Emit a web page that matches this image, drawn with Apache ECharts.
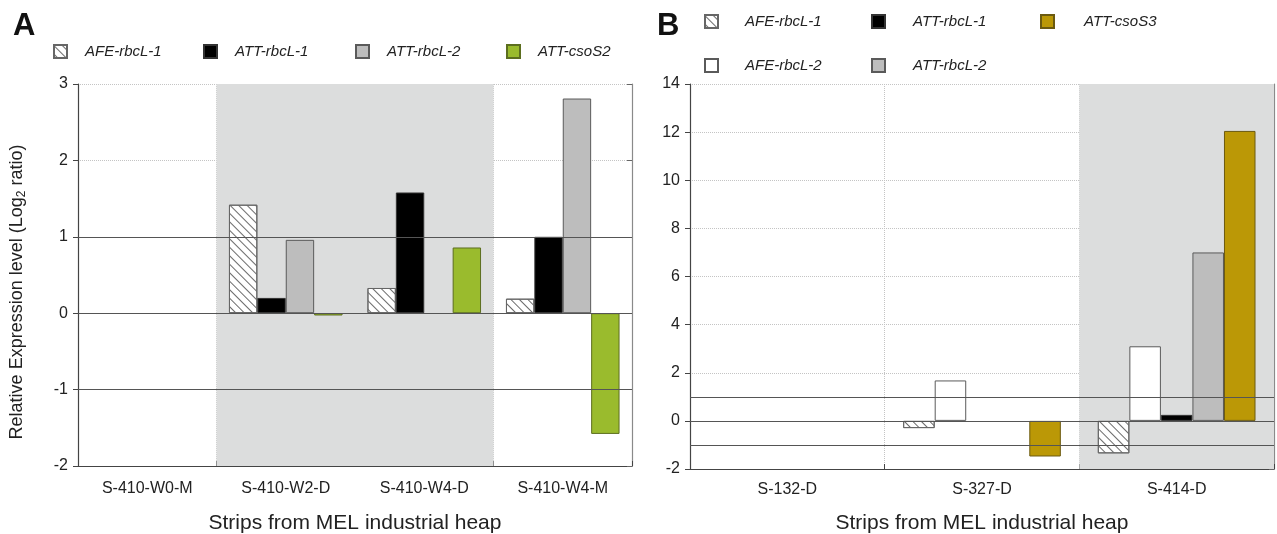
<!DOCTYPE html>
<html>
<head>
<meta charset="utf-8">
<script src="https://cdn.jsdelivr.net/npm/echarts@6/dist/echarts.min.js"></script>
<style>
  html, body { margin: 0; padding: 0; background: #fff; }
  #chart { width: 1277px; height: 534px; }
</style>
</head>
<body>
<div id="chart"></div>
<script>
// Panel A: strips from heap S-410
const stripsA = ['S-410-W0-M', 'S-410-W2-D', 'S-410-W4-D', 'S-410-W4-M'];
const afeRbcL1A = [null, 1.42, 0.33, 0.19];
const attRbcL1A = [null, 0.20, 1.58, 1.00];
const attRbcL2A = [null, 0.96, null, 2.81];
const attCsoS2A = [null, -0.03, 0.86, -1.58];
const shadedA = [[1, 3]];           // category spans with grey background
const ticksA = { min: -2, max: 3, interval: 1 };

// Panel B: other strips
const stripsB = ['S-132-D', 'S-327-D', 'S-414-D'];
const afeRbcL1B = [null, -0.30, -1.35];
const afeRbcL2B = [null, 1.68, 3.10];
const attRbcL1B = [null, null, 0.25];
const attRbcL2B = [null, null, 7.00];
const attCsoS3B = [null, -1.48, 12.05];
const shadedB = [[2, 3]];
const ticksB = { min: -2, max: 14, interval: 2 };

// thresholds drawn as solid reference lines
const refLines = [1, 0, -1];

const FONT = '"Liberation Sans", Arial, sans-serif';
const INK = '#222';
const EDGE = '#5a5a5a';

const hatch = {
  symbol: 'rect', symbolSize: 1, color: '#6a6a6a',
  dashArrayX: [1, 0], dashArrayY: [1, 4.5], rotation: Math.PI / 4
};

const styles = {
  'AFE-rbcL-1': { color: '#fff', borderColor: '#666', borderWidth: 1, decal: hatch },
  'AFE-rbcL-2': { color: '#fff', borderColor: EDGE, borderWidth: 1 },
  'ATT-rbcL-1': { color: '#000', borderColor: '#333', borderWidth: 1 },
  'ATT-rbcL-2': { color: '#bdbdbd', borderColor: EDGE, borderWidth: 1 },
  'ATT-csoS2': { color: '#9abb2d', borderColor: '#5c6e1f', borderWidth: 1 },
  'ATT-csoS3': { color: '#bb9806', borderColor: '#6b5a10', borderWidth: 1 }
};

function bar(name, data, xi, yi, gapCat) {
  return {
    name, type: 'bar', data, xAxisIndex: xi, yAxisIndex: yi,
    barGap: '0%', barCategoryGap: gapCat, z: 3,
    itemStyle: styles[name], emphasis: { disabled: true }
  };
}

function shade(spans, xi, yi) {
  return {
    type: 'line', data: [], xAxisIndex: xi, yAxisIndex: yi, z: -1, silent: true,
    markArea: {
      silent: true,
      itemStyle: { color: '#dcdddd' },
      data: spans.map(s => [{ xAxis: s[0] }, { xAxis: s[1] }])
    }
  };
}

function refs(xi, yi) {
  return {
    type: 'line', data: [], xAxisIndex: xi, yAxisIndex: yi, z: 6, silent: true,
    markLine: {
      silent: true, symbol: 'none', label: { show: false },
      lineStyle: { color: '#555', width: 1, type: 'solid' },
      data: refLines.map(v => ({ yAxis: v }))
    }
  };
}

function catAxis(data, grid, labelMargin, titleGap) {
  return {
    type: 'category', data, gridIndex: grid,
    axisLine: { onZero: false, lineStyle: { color: '#444', width: 1.2 } },
    axisTick: { show: true, inside: true, length: 5, lineStyle: { color: '#444' } },
    axisLabel: { color: INK, fontSize: 16, fontFamily: FONT, margin: labelMargin },
    splitLine: { show: true, lineStyle: { color: '#c4c4c4', type: 'dotted' } },
    name: 'Strips from MEL industrial heap', nameLocation: 'middle', nameGap: titleGap,
    nameTextStyle: { color: INK, fontSize: 21, fontFamily: FONT }
  };
}

function hiddenX(n, grid) {
  return { type: 'value', min: 0, max: n, gridIndex: grid, show: false };
}

function leftY(t, grid, withName) {
  const ax = {
    type: 'value', gridIndex: grid, min: t.min, max: t.max, interval: t.interval,
    axisLine: { show: true, lineStyle: { color: '#444', width: 1.2 } },
    axisTick: { show: true, length: 5, lineStyle: { color: '#444' } },
    axisLabel: { color: INK, fontSize: 16, fontFamily: FONT, margin: 10 },
    splitLine: { show: true, lineStyle: { color: '#c4c4c4', type: 'dotted' } }
  };
  if (withName) {
    ax.name = 'Relative Expression level (Log{s|2} ratio)';
    ax.nameLocation = 'middle';
    ax.nameGap = 50;
    ax.nameTextStyle = {
      color: INK, fontSize: 18, fontFamily: FONT, padding: [0, 34, 0, 0],
      rich: { s: { fontSize: 12, fontFamily: FONT, color: INK, padding: [10, 0, 0, 0] } }
    };
  }
  return ax;
}

function rightY(t, grid) {
  return {
    type: 'value', gridIndex: grid, min: t.min, max: t.max, interval: t.interval,
    position: 'right',
    axisLine: { show: true, lineStyle: { color: '#8a8a8a', width: 1.2 } },
    axisTick: { show: true, inside: true, length: 5, lineStyle: { color: '#666' } },
    axisLabel: { show: false }, splitLine: { show: false }
  };
}

function legendItem(name, left, top, gap) {
  return {
    data: [name], left, top, padding: 0, icon: 'rect', itemWidth: 13, itemHeight: 13,
    selectedMode: false,
    textStyle: { color: INK, fontSize: 15, fontStyle: 'italic', fontFamily: FONT, padding: [0, 0, 0, gap] }
  };
}

const option = {
  backgroundColor: '#fff',
  animation: false,
  title: [
    { text: 'A', left: 8, top: 6, textStyle: { fontSize: 31, fontWeight: 'bold', color: '#111', fontFamily: FONT } },
    { text: 'B', left: 652, top: 6, textStyle: { fontSize: 31, fontWeight: 'bold', color: '#111', fontFamily: FONT } }
  ],
  legend: [
    legendItem('AFE-rbcL-1', 53, 44, 13),
    legendItem('ATT-rbcL-1', 203, 44, 13),
    legendItem('ATT-rbcL-2', 355, 44, 13),
    legendItem('ATT-csoS2', 506, 44, 13),
    legendItem('AFE-rbcL-1', 704, 14, 22),
    legendItem('ATT-rbcL-1', 871, 14, 23),
    legendItem('ATT-csoS3', 1040, 14, 25),
    legendItem('AFE-rbcL-2', 704, 58, 22),
    legendItem('ATT-rbcL-2', 871, 58, 23)
  ],
  grid: [
    { left: 78, right: 645, top: 84, bottom: 68, outerBoundsMode: 'none' },
    { left: 690, right: 3, top: 84, bottom: 65, outerBoundsMode: 'none' }
  ],
  xAxis: [
    catAxis(stripsA, 0, 15, 47),
    hiddenX(stripsA.length, 0),
    catAxis(stripsB, 1, 13, 44),
    hiddenX(stripsB.length, 1)
  ],
  yAxis: [
    leftY(ticksA, 0, true),
    rightY(ticksA, 0),
    leftY(ticksB, 1, false),
    rightY(ticksB, 1)
  ],
  series: [
    shade(shadedA, 1, 0),
    bar('AFE-rbcL-1', afeRbcL1A, 0, 0, '18%'),
    bar('ATT-rbcL-1', attRbcL1A, 0, 0, '18%'),
    bar('ATT-rbcL-2', attRbcL2A, 0, 0, '18%'),
    bar('ATT-csoS2', attCsoS2A, 0, 0, '18%'),
    refs(1, 0),
    shade(shadedB, 3, 2),
    bar('AFE-rbcL-1', afeRbcL1B, 2, 2, '19%'),
    bar('AFE-rbcL-2', afeRbcL2B, 2, 2, '19%'),
    bar('ATT-rbcL-1', attRbcL1B, 2, 2, '19%'),
    bar('ATT-rbcL-2', attRbcL2B, 2, 2, '19%'),
    bar('ATT-csoS3', attCsoS3B, 2, 2, '19%'),
    refs(3, 2)
  ]
};

const chart = echarts.init(document.getElementById('chart'), null, { renderer: 'canvas' });
chart.setOption(option);
</script>
</body>
</html>
